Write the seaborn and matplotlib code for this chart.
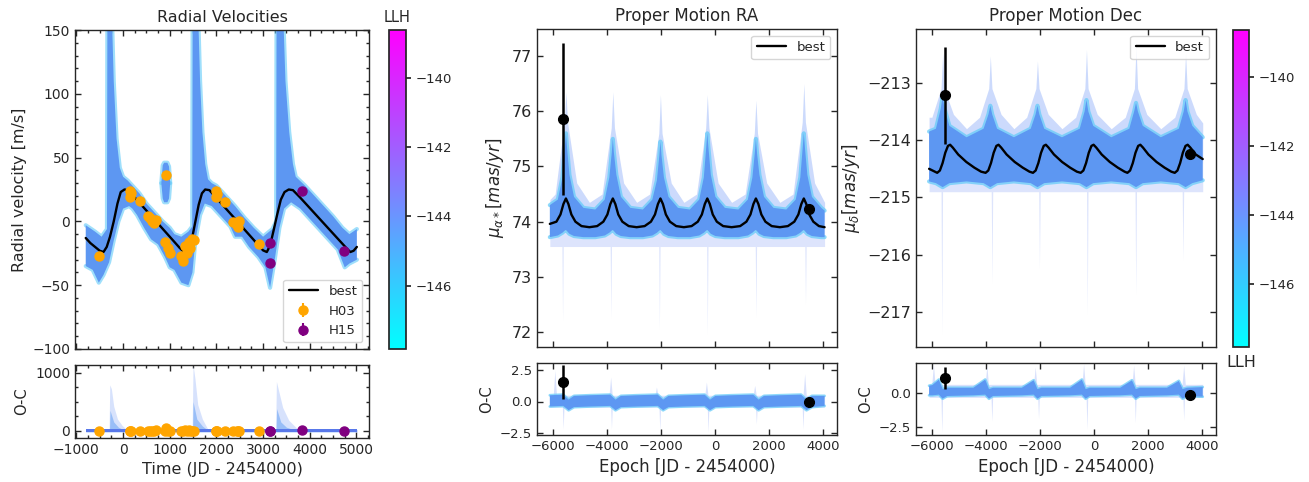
import numpy as np
import pandas as pd
import matplotlib
matplotlib.use("Agg")
import matplotlib.pyplot as plt
import seaborn as sns
from matplotlib.ticker import MultipleLocator
from matplotlib.colors import Normalize
from matplotlib.cm import ScalarMappable

sns.set_theme(style="white")
plt.rcParams['font.family'] = ['DejaVu Sans']
plt.rcParams['mathtext.fontset'] = 'dejavusans'

# ======================= DATA =======================
# ---- Radial velocities ----
rv_best_t = [-800, -700, -600, -500, -420, -350, -280, -200, -120, -50, 30, 110, 300, 500, 700, 900,
             1100, 1214, 1280, 1330, 1400, 1480, 1550, 1620, 1690, 1760, 1850, 2000, 2200, 2400, 2600,
             2800, 3000, 3080, 3150, 3220, 3300, 3380, 3460, 3550, 3640, 3800, 4000, 4200, 4400, 4600,
             4800, 4870, 4940, 5010]
rv_best_v = [-13, -17, -20, -23, -24, -20, -12, 0, 14, 23, 25, 24.5, 16.7, 8.5, 0.3, -7.9,
             -16.1, -20.8, -23, -24, -20, -13, 0, 13, 22, 25, 24.5, 18.4, 10.2, 2, -6.3,
             -14.5, -22.7, -24, -19, -8, 5, 17, 23, 25, 24.5, 18.5, 10.5, 2.5, -5.5, -13.5,
             -21.5, -24, -23, -20]

rv_hi_t = [-800, -600, -460, -345, -335, -250, -200, -140, -70, 0, 100, 200, 350, 500, 700, 850, 1000,
           1100, 1250, 1400, 1482, 1492, 1600, 1650, 1700, 1760, 1820, 1900, 2000, 2200, 2400, 2600,
           2800, 3000, 3200, 3280, 3290, 3420, 3480, 3560, 3640, 3700, 3900, 4100, 4300, 4500, 4700,
           4850, 5010]
rv_hi_v = [-3, -8, -12, -6, 175, 175, 110, 65, 42, 35, 32, 28, 22, 14, 6, 0, -5,
           -10, -12, -8, -4, 175, 175, 110, 70, 45, 33, 30, 28, 20, 12, 3,
           -5, -12, -6, 0, 175, 175, 110, 70, 45, 35, 28, 20, 12, 4, -5,
           -10, -6]
rv_lo_t = [-800, -650, -520, -420, -300, -200, -100, 0, 130, 200, 300, 450, 600, 750, 900, 1000, 1100,
           1250, 1400, 1486, 1550, 1650, 1750, 1900, 2100, 2300, 2400, 2550, 2700, 2900, 3050, 3150,
           3250, 3350, 3450, 3600, 3800, 4000, 4200, 4400, 4600, 4750, 4850, 5010]
rv_lo_v = [-35, -38, -48, -42, -32, -15, 0, 10, 12, 10, 5, -5, -14, -18, -28, -36, -38,
           -48, -50, -40, -15, 5, 14, 12, 4, -4, -12, -12, -20, -28, -36, -52,
           -30, -5, 10, 15, 10, 2, -6, -14, -22, -36, -33, -30]
rv_blob_t = [820, 850, 880, 950, 985, 1010]
rv_blob_hi = [30, 44, 46, 46, 43, 30]
rv_blob_lo = [30, 18, 15, 15, 18, 30]

h03_t = [-514, 143, 157, 164, 357, 536, 571, 629, 657, 714, 914, 893, 964, 1000, 1250, 1286, 1321,
         1371, 1407, 1443, 1486, 1521, 1986, 2000, 2014, 2186, 2357, 2443, 2464, 2486, 2914]
h03_v = [-26.8, 24, 19.5, 22, 15.6, 4.4, 2.6, 0, -1.3, 1.3, 36, -16.4, -21, -25, -27, -31, -19.5,
         -25, -16.4, -21, -13.8, -14.3, 24, 19.5, 21.6, 15, -0.8, -2.6, -4.7, 0, -17.7]
h03_oc = [-2, 0, -4, -2, 2, 0, -1, 0, -2, 4, 45, 3, 0, -3, -3, -7, 4,
          -2, 4, 0, -3, -5, 0, -4, -2, 2, 1, 0, -2, 2, 2]
h15_t = [3143, 3157, 3843, 4736]
h15_v = [-32.5, -17, 24, -23.4]
h15_oc = [-8, 0, 6, 0]
rv_err = 2.5

rv_oc_band_t = [-800, 5010]
rv_oc_band_hi = [22, 22]
rv_oc_band_lo = [-22, -22]
rv_oc_spk_t = [-800, -300, -285, -250, -200, -120, -20, 80, 1480, 1500, 1540, 1600, 1700, 1820,
               3270, 3286, 3330, 3420, 3550, 3750, 5010]
rv_oc_spk_v = [20, 20, 790, 720, 420, 200, 90, 20, 20, 1130, 900, 450, 200, 20,
               20, 846, 700, 400, 180, 20, 20]
rv_oc_den_t = [-800, -290, -280, -200, -100, 0, 1490, 1500, 1580, 1700, 1800, 3280, 3290, 3380, 3500, 3650, 5010]
rv_oc_den_v = [20, 20, 350, 150, 60, 20, 20, 500, 200, 80, 20, 20, 380, 150, 60, 20, 20]

# ---- Proper motion RA ----
ra_best_t = [-6124,
             -5880, -5730, -5620, -5528, -5436, -5326, -5176, -4950, -4660, -4370,
             -4141, -3991, -3881, -3789, -3697, -3587, -3437, -3200, -2907, -2610,
             -2377, -2227, -2117, -2025, -1933, -1823, -1673, -1440, -1156, -870,
             -639, -489, -379, -287, -195, -85, 65, 300, 614, 930,
             1162, 1312, 1422, 1514, 1606, 1716, 1866, 2100, 2402, 2700,
             2938, 3088, 3198, 3290, 3382, 3492, 3642, 3850, 4060]
ra_best_v = [73.96,
             74.0, 74.13, 74.32, 74.42, 74.32, 74.13, 74.0, 73.92, 73.9, 73.92,
             74.0, 74.13, 74.32, 74.42, 74.32, 74.13, 74.0, 73.92, 73.9, 73.92,
             74.0, 74.13, 74.32, 74.42, 74.32, 74.13, 74.0, 73.92, 73.9, 73.92,
             74.0, 74.13, 74.32, 74.42, 74.32, 74.13, 74.0, 73.92, 73.9, 73.92,
             74.0, 74.13, 74.32, 74.42, 74.32, 74.13, 74.0, 73.92, 73.9, 73.92,
             74.0, 74.13, 74.32, 74.42, 74.32, 74.13, 74.0, 73.92, 73.9]
ra_cl_t = [-6124, -5828, -5658, -5568, -5528, -5488, -5398, -5228, -4878,
           -4439, -4089, -3919, -3829, -3789, -3749, -3659, -3489, -3139,
           -2675, -2325, -2155, -2065, -2025, -1985, -1895, -1725, -1375,
           -937, -587, -417, -327, -287, -247, -157, 13, 363,
           864, 1214, 1384, 1474, 1514, 1554, 1644, 1814, 2164,
           2640, 2990, 3160, 3250, 3290, 3330, 3420, 3590, 3940, 4060]
ra_cl_hi = [74.3, 74.4, 74.8, 75.35, 75.6, 75.35, 74.85, 74.45, 74.25,
            74.22, 74.4, 74.8, 75.25, 75.5, 75.25, 74.85, 74.45, 74.25,
            74.22, 74.4, 74.75, 75.2, 75.45, 75.2, 74.8, 74.45, 74.25,
            74.22, 74.4, 74.8, 75.35, 75.6, 75.35, 74.85, 74.45, 74.25,
            74.22, 74.4, 74.8, 75.25, 75.5, 75.25, 74.85, 74.45, 74.25,
            74.22, 74.4, 74.8, 75.35, 75.6, 75.35, 74.85, 74.45, 74.25, 74.2]
ra_cl_lo = [73.72, 73.75, 73.8, 73.84, 73.85, 73.83, 73.78, 73.74, 73.72,
            73.72, 73.75, 73.8, 73.84, 73.85, 73.83, 73.78, 73.74, 73.72,
            73.72, 73.75, 73.8, 73.84, 73.85, 73.83, 73.78, 73.74, 73.72,
            73.72, 73.75, 73.8, 73.84, 73.85, 73.83, 73.78, 73.74, 73.72,
            73.72, 73.75, 73.8, 73.84, 73.85, 73.83, 73.78, 73.74, 73.72,
            73.72, 73.75, 73.8, 73.84, 73.85, 73.83, 73.78, 73.74, 73.72, 73.72]
ra_up_t = [-6124, -5928, -5588, -5528, -5468, -5128, -4658,
           -4189, -3849, -3789, -3729, -3389, -2907,
           -2425, -2085, -2025, -1965, -1625, -1156,
           -687, -347, -287, -227, 113, 614,
           1114, 1454, 1514, 1574, 1914, 2402,
           2890, 3230, 3290, 3350, 3690, 4060]
ra_up_v = [74.4, 74.5, 75.8, 76.35, 75.8, 74.7, 74.35,
           74.5, 75.7, 76.35, 75.7, 74.7, 74.35,
           74.5, 75.6, 76.3, 75.6, 74.7, 74.35,
           74.5, 75.7, 76.3, 75.7, 74.7, 74.35,
           74.5, 75.6, 76.2, 75.6, 74.7, 74.35,
           74.5, 75.8, 76.5, 75.8, 74.7, 74.35]
ra_dn_t = [-6124, -5677, -5652, -5627, -3889, -3864, -3839, -2088, -2063, -2038,
           -312, -287, -262, 1489, 1514, 1539, 3327, 3352, 3377, 4060]
ra_dn_v = [73.55, 73.55, 72.2, 73.55, 73.55, 72.25, 73.55, 73.55, 72.05, 73.55,
           73.55, 71.95, 73.55, 73.55, 72.27, 73.55, 73.55, 72.5, 73.55, 73.55]
ra_obs_t = [-5627, 3477]
ra_obs_v = [75.86, 74.23]
ra_obs_e = [1.37, 0.03]
ra_oc_obs = [1.58, 0.0]
ra_oc_obs_e = [1.35, 0.03]

ra_oc_t = [-6124, -5628, -5428, -5228, -4658, -3889, -3689, -3489, -2907, -2125, -1925, -1725, -1156,
           -387, -187, 13, 614, 1414, 1614, 1814, 2402, 3190, 3390, 3590, 4060]
ra_oc_hi = [0.5, 0.55, 0.15, 0.45, 0.5, 0.55, 0.15, 0.45, 0.5, 0.55, 0.15, 0.45, 0.5,
            0.55, 0.15, 0.45, 0.5, 0.55, 0.15, 0.45, 0.5, 0.55, 0.15, 0.45, 0.45]
ra_oc_lo = [-0.4, -0.35, -0.7, -0.45, -0.4, -0.35, -0.7, -0.45, -0.4, -0.35, -0.7, -0.45, -0.4,
            -0.35, -0.7, -0.45, -0.4, -0.35, -0.7, -0.45, -0.4, -0.35, -0.7, -0.45, -0.35]
ra_oc_up_t = [-6124, -5998, -5938, -5878, -3930, -3870, -3810, -2233, -2173, -2113,
              -381, -321, -261, 1409, 1469, 1529, 3261, 3321, 3381, 4060]
ra_oc_up_v = [0.5, 0.5, 2.5, 0.5, 0.5, 1.96, 0.5, 0.5, 1.16, 0.5,
              0.5, 1.56, 0.5, 0.5, 1.29, 0.5, 0.5, 2.23, 0.5, 0.5]
ra_oc_dn_t = [-6124, -5660, -5630, -5600, -3870, -3840, -3810, -2079, -2049, -2019,
              -289, -259, -229, 1501, 1531, 1561, 3229, 3259, 3289, 4060]
ra_oc_dn_v = [-0.45, -0.45, -2.2, -0.45, -0.45, -2.2, -0.45, -0.45, -2.34, -0.45,
              -0.45, -2.47, -0.45, -0.45, -1.8, -0.45, -0.45, -2.2, -0.45, -0.45]

# ---- Proper motion Dec ----
dec_best_t = [-6124, -5823, -5723, -5623, -5523, -5423, -5343, -5243, -5043, -4743, -4443, -4193,
              -4026, -3926, -3826, -3726, -3626, -3546, -3446, -3246, -2946, -2646, -2396,
              -2267, -2167, -2067, -1967, -1867, -1787, -1687, -1487, -1187, -887, -637,
              -495, -395, -295, -195, -95, -15, 85, 285, 585, 885, 1135,
              1240, 1340, 1440, 1540, 1640, 1720, 1820, 2020, 2320, 2620, 2870,
              2998, 3098, 3198, 3298, 3398, 3478, 3578, 3778, 4037]
dec_best_v = [-214.5, -214.57, -214.53, -214.40, -214.22, -214.10, -214.08, -214.13, -214.25, -214.38, -214.48, -214.55,
              -214.57, -214.53, -214.40, -214.22, -214.10, -214.08, -214.13, -214.25, -214.38, -214.48, -214.55,
              -214.57, -214.53, -214.40, -214.22, -214.10, -214.08, -214.13, -214.25, -214.38, -214.48, -214.55,
              -214.57, -214.53, -214.40, -214.22, -214.10, -214.08, -214.13, -214.25, -214.38, -214.48, -214.55,
              -214.57, -214.53, -214.40, -214.22, -214.10, -214.08, -214.13, -214.25, -214.38, -214.48, -214.55,
              -214.57, -214.53, -214.40, -214.22, -214.10, -214.08, -214.13, -214.25, -214.33]
dec_cl_t = [-6124, -5870, -5690, -5620, -5550, -5370, -4735,
            -4100, -3920, -3850, -3780, -3600, -2975,
            -2350, -2170, -2100, -2030, -1850, -1190,
            -530, -350, -280, -210, -30, 640,
            1310, 1490, 1560, 1630, 1810, 2480,
            3150, 3330, 3400, 3470, 3650, 4037]
dec_cl_hi = [-213.85, -213.8, -213.45, -213.23, -213.45, -213.75, -213.95,
             -213.8, -213.55, -213.4, -213.55, -213.8, -213.95,
             -213.8, -213.55, -213.4, -213.55, -213.8, -213.95,
             -213.8, -213.5, -213.3, -213.5, -213.75, -213.95,
             -213.8, -213.5, -213.35, -213.5, -213.75, -213.95,
             -213.8, -213.5, -213.3, -213.5, -213.75, -213.95]
dec_cl_lo = [-214.72, -214.75, -214.8, -214.82, -214.8, -214.75, -214.72,
             -214.75, -214.8, -214.82, -214.8, -214.75, -214.72,
             -214.75, -214.8, -214.82, -214.8, -214.75, -214.72,
             -214.75, -214.8, -214.82, -214.8, -214.75, -214.72,
             -214.75, -214.8, -214.82, -214.8, -214.75, -214.72,
             -214.75, -214.8, -214.82, -214.8, -214.75, -214.7]
dec_up_t = [-6124, -6020, -5680, -5620, -5560, -5220, -4735,
            -4250, -3910, -3850, -3790, -3450, -2975,
            -2500, -2160, -2100, -2040, -1700, -1190,
            -680, -340, -280, -220, 120, 640,
            1160, 1500, 1560, 1620, 1960, 2480,
            3000, 3340, 3400, 3460, 3800, 4037]
dec_up_v = [-213.6, -213.6, -213.1, -212.48, -213.1, -213.55, -213.8,
            -213.6, -213.1, -212.53, -213.1, -213.55, -213.8,
            -213.6, -213.1, -212.62, -213.1, -213.55, -213.8,
            -213.6, -213.1, -212.42, -213.1, -213.55, -213.8,
            -213.6, -213.1, -212.36, -213.1, -213.55, -213.8,
            -213.6, -213.1, -212.48, -213.1, -213.55, -213.7]
dec_dn_t = [-6124, -5680, -5652, -5624, -3817, -3789, -3761, -2054, -2026, -1998,
            -278, -250, -222, 1522, 1550, 1578, 3274, 3302, 3330, 4037]
dec_dn_v = [-214.9, -214.9, -217.4, -214.9, -214.9, -216.5, -214.9, -214.9, -216.25, -214.9,
            -214.9, -217.05, -214.9, -214.9, -216.7, -214.9, -214.9, -216.1, -214.9, -214.9]
dec_obs_t = [-5529, 3553]
dec_obs_v = [-213.22, -214.25]
dec_obs_e = [0.84, 0.03]
dec_oc_obs = [1.08, -0.2]
dec_oc_obs_e = [0.79, 0.03]

dec_oc_t = [-6124, -6000, -5760, -5620, -5450, -4480, -4040, -3900, -3750, -2680, -2240, -2100, -1950,
            -890, -450, -310, -160, 970, 1410, 1550, 1700, 2710, 3150, 3290, 3450, 4037]
dec_oc_hi = [0.5, 0.55, 0.95, 0.25, 0.35, 0.35, 0.95, 0.25, 0.35, 0.35, 0.9, 0.25, 0.35,
             0.35, 0.95, 0.25, 0.35, 0.35, 0.9, 0.25, 0.35, 0.35, 0.85, 0.25, 0.35, 0.4]
dec_oc_lo = [-0.2, -0.2, -0.15, -0.45, -0.25, -0.2, -0.15, -0.45, -0.25, -0.2, -0.15, -0.45, -0.25,
             -0.2, -0.15, -0.45, -0.25, -0.2, -0.15, -0.45, -0.25, -0.2, -0.15, -0.45, -0.25, -0.3]
dec_oc_up_t = [-6124, -6023, -5963, -5903, -4040, -3980, -3920, -2244, -2184, -2124,
               -447, -387, -327, 1411, 1471, 1531, 3270, 3330, 3390, 4037]
dec_oc_up_v = [0.6, 0.6, 2.1, 0.6, 0.6, 2.0, 0.6, 0.6, 1.87, 0.6,
               0.6, 2.1, 0.6, 0.6, 2.0, 0.6, 0.6, 2.0, 0.6, 0.6]
dec_oc_dn_t = [-6124, -5683, -5653, -5623, -3824, -3794, -3764, -2090, -2060, -2030,
               -293, -263, -233, 1503, 1533, 1563, 3300, 3330, 3360, 4037]
dec_oc_dn_v = [-0.35, -0.35, -2.9, -0.35, -0.35, -2.1, -0.35, -0.35, -1.9, -0.35,
               -0.35, -2.7, -0.35, -0.35, -2.2, -0.35, -0.35, -2.0, -0.35, -0.35]

llh_range = [-147.83, -138.63]
llh_ticks = [-146, -144, -142, -140]

# ======================= FIGURE =======================
W, H = 1309, 482
fig = plt.figure(figsize=(W / 100, H / 100), dpi=100)


def rect(x0, y0, x1, y1):
    return [x0 / W, 1 - y1 / H, (x1 - x0) / W, (y1 - y0) / H]


ax_rv = fig.add_axes(rect(75, 30, 369, 349))
ax_rvoc = fig.add_axes(rect(75, 365, 369, 438))
cax1 = fig.add_axes(rect(389, 30, 406, 349))
ax_ra = fig.add_axes(rect(537, 29, 837, 347))
ax_raoc = fig.add_axes(rect(537, 363, 837, 435))
ax_de = fig.add_axes(rect(916, 29, 1216, 347))
ax_deoc = fig.add_axes(rect(916, 363, 1216, 435))
cax2 = fig.add_axes(rect(1233, 30, 1249, 347))

DENSE = '#5d97f2'
EDGE = '#5fcaf9'
FAINT = '#b7cbfb'
FAINTER = '#d5defc'


def poly_band(ax, xt, hi, xb, lo, face, edge=None, elw=2.2, ealpha=0.75, z=1.0):
    xs = list(xt) + list(xb)[::-1]
    ys = list(hi) + list(lo)[::-1]
    if edge:
        ax.plot(xt, hi, color=edge, lw=elw, alpha=ealpha, zorder=z - 0.1)
        ax.plot(xb, lo, color=edge, lw=elw, alpha=ealpha, zorder=z - 0.1)
    ax.fill(xs, ys, color=face, lw=0, zorder=z)


def style_axes(ax, size):
    ax.tick_params(which='both', direction='in', top=True, right=True, bottom=True, left=True,
                   labelsize=size, color='0.15', width=1.0)
    ax.tick_params(which='major', length=4.5)
    ax.tick_params(which='minor', length=2.4)
    for s in ax.spines.values():
        s.set_color('0.15')
        s.set_linewidth(1.0)


# ---------------- RV panel ----------------
poly_band(ax_rv, rv_hi_t, rv_hi_v, rv_lo_t, rv_lo_v, DENSE, EDGE, elw=3, ealpha=0.6, z=1)
poly_band(ax_rv, rv_blob_t, rv_blob_hi, rv_blob_t, rv_blob_lo, DENSE, EDGE, elw=3, ealpha=0.6, z=1)
sns.lineplot(x=rv_best_t, y=rv_best_v, ax=ax_rv, color='black', linewidth=1.7, sort=False,
             estimator=None, label='best', zorder=4)
ax_rv.errorbar(h03_t, h03_v, yerr=rv_err, fmt='o', color='orange', ms=6.5, elinewidth=1.5,
               capsize=0, zorder=6, label='H03')
ax_rv.errorbar(h15_t, h15_v, yerr=rv_err, fmt='o', color='purple', ms=6.5, elinewidth=1.5,
               capsize=0, zorder=6, label='H15')
ax_rv.set_xlim(-1030, 5270)
ax_rv.set_ylim(-100, 150)
ax_rv.xaxis.set_major_locator(MultipleLocator(1000))
ax_rv.xaxis.set_minor_locator(MultipleLocator(250))
ax_rv.yaxis.set_major_locator(MultipleLocator(50))
ax_rv.yaxis.set_minor_locator(MultipleLocator(10))
style_axes(ax_rv, 10)
ax_rv.tick_params(labelbottom=False)
ax_rv.set_ylabel('Radial velocity [m/s]', fontsize=11.5)
ax_rv.set_title('Radial Velocities', fontsize=11.5, pad=6)
h, l = ax_rv.get_legend_handles_labels()
order = [l.index('best'), l.index('H03'), l.index('H15')]
ax_rv.legend([h[i] for i in order], [l[i] for i in order], loc='lower right', fontsize=9.5,
             frameon=True, edgecolor='0.8', borderpad=0.4, handlelength=2.2)

# RV O-C
ax_rvoc.fill_between(rv_oc_spk_t, -20, rv_oc_spk_v, color=FAINT, alpha=0.55, lw=0, zorder=1)
ax_rvoc.fill_between(rv_oc_den_t, -20, rv_oc_den_v, color='#7fb0f6', alpha=0.7, lw=0, zorder=1.2)
ax_rvoc.fill_between(rv_oc_band_t, rv_oc_band_lo, rv_oc_band_hi, color='#5878ea', lw=0, zorder=1.5)
ax_rvoc.errorbar(h03_t, h03_oc, yerr=rv_err, fmt='o', color='orange', ms=6.5, elinewidth=1.5,
                 capsize=0, zorder=6)
ax_rvoc.errorbar(h15_t, h15_oc, yerr=rv_err, fmt='o', color='purple', ms=6.5, elinewidth=1.5,
                 capsize=0, zorder=6)
ax_rvoc.set_xlim(-1030, 5270)
ax_rvoc.set_ylim(-126, 1131)
ax_rvoc.xaxis.set_major_locator(MultipleLocator(1000))
ax_rvoc.xaxis.set_minor_locator(MultipleLocator(250))
ax_rvoc.yaxis.set_major_locator(MultipleLocator(1000))
ax_rvoc.yaxis.set_minor_locator(MultipleLocator(250))
style_axes(ax_rvoc, 10)
ax_rvoc.set_ylabel('O-C', fontsize=10.5)
ax_rvoc.set_xlabel('Time (JD - 2454000)', fontsize=11.5)

# ---------------- RA panel ----------------
ax_ra.fill_between(ra_dn_t, ra_dn_v, 74.0, color=FAINTER, alpha=0.8, lw=0, zorder=0.8)
ax_ra.fill_between(ra_up_t, 74.0, ra_up_v, color=FAINT, alpha=0.7, lw=0, zorder=0.9)
poly_band(ax_ra, ra_cl_t, ra_cl_hi, ra_cl_t, ra_cl_lo, DENSE, EDGE, elw=3, ealpha=0.7, z=1)
sns.lineplot(x=ra_best_t, y=ra_best_v, ax=ax_ra, color='black', linewidth=1.7, sort=False,
             estimator=None, label='best', zorder=4)
ax_ra.errorbar(ra_obs_t, ra_obs_v, yerr=ra_obs_e, fmt='o', color='black', ms=7, elinewidth=1.8,
               capsize=0, zorder=6)
ax_ra.set_xlim(-6600, 4520)
ax_ra.set_ylim(71.73, 77.49)
ax_ra.xaxis.set_major_locator(MultipleLocator(2000))
ax_ra.yaxis.set_major_locator(MultipleLocator(1))
style_axes(ax_ra, 11.5)
ax_ra.tick_params(labelbottom=False)
ax_ra.set_ylabel(r'$\mu_{\alpha*}[mas/yr]$', fontsize=12)
ax_ra.set_title('Proper Motion RA', fontsize=12, pad=6)
ax_ra.legend(loc='upper right', fontsize=9.5, frameon=True, edgecolor='0.8', handlelength=2.2)

ax_raoc.fill_between(ra_oc_dn_t, ra_oc_dn_v, 0, color=FAINTER, alpha=0.9, lw=0, zorder=0.8)
ax_raoc.fill_between(ra_oc_up_t, 0, ra_oc_up_v, color=FAINTER, alpha=0.9, lw=0, zorder=0.8)
poly_band(ax_raoc, ra_oc_t, ra_oc_hi, ra_oc_t, ra_oc_lo, DENSE, EDGE, elw=2, ealpha=0.7, z=1)
ax_raoc.errorbar(ra_obs_t, ra_oc_obs, yerr=ra_oc_obs_e, fmt='o', color='black', ms=7,
                 elinewidth=1.8, capsize=0, zorder=6)
ax_raoc.set_xlim(-6600, 4520)
ax_raoc.set_ylim(-2.68, 3.08)
ax_raoc.xaxis.set_major_locator(MultipleLocator(2000))
ax_raoc.set_yticks([-2.5, 0.0, 2.5])
style_axes(ax_raoc, 9.5)
ax_raoc.set_ylabel('O-C', fontsize=10.5)
ax_raoc.set_xlabel('Epoch [JD - 2454000)', fontsize=12)

# ---------------- Dec panel ----------------
ax_de.fill_between(dec_dn_t, dec_dn_v, -214.4, color=FAINTER, alpha=0.8, lw=0, zorder=0.8)
ax_de.fill_between(dec_up_t, -214.4, dec_up_v, color=FAINT, alpha=0.7, lw=0, zorder=0.9)
poly_band(ax_de, dec_cl_t, dec_cl_hi, dec_cl_t, dec_cl_lo, DENSE, EDGE, elw=3, ealpha=0.7, z=1)
sns.lineplot(x=dec_best_t, y=dec_best_v, ax=ax_de, color='black', linewidth=1.7, sort=False,
             estimator=None, label='best', zorder=4)
ax_de.errorbar(dec_obs_t, dec_obs_v, yerr=dec_obs_e, fmt='o', color='black', ms=7, elinewidth=1.8,
               capsize=0, zorder=6)
ax_de.set_xlim(-6610, 4530)
ax_de.set_ylim(-217.61, -212.06)
ax_de.xaxis.set_major_locator(MultipleLocator(2000))
ax_de.yaxis.set_major_locator(MultipleLocator(1))
style_axes(ax_de, 11.5)
ax_de.tick_params(labelbottom=False)
ax_de.set_ylabel(r'$\mu_{\delta}[mas/yr]$', fontsize=12)
ax_de.set_title('Proper Motion Dec', fontsize=12, pad=6)
ax_de.legend(loc='upper right', fontsize=9.5, frameon=True, edgecolor='0.8', handlelength=2.2)

ax_deoc.fill_between(dec_oc_dn_t, dec_oc_dn_v, 0, color=FAINTER, alpha=0.9, lw=0, zorder=0.8)
ax_deoc.fill_between(dec_oc_up_t, 0, dec_oc_up_v, color=FAINTER, alpha=0.9, lw=0, zorder=0.8)
poly_band(ax_deoc, dec_oc_t, dec_oc_hi, dec_oc_t, dec_oc_lo, DENSE, EDGE, elw=2, ealpha=0.7, z=1)
ax_deoc.errorbar(dec_obs_t, dec_oc_obs, yerr=dec_oc_obs_e, fmt='o', color='black', ms=7,
                 elinewidth=1.8, capsize=0, zorder=6)
ax_deoc.set_xlim(-6610, 4530)
ax_deoc.set_ylim(-3.1, 2.16)
ax_deoc.xaxis.set_major_locator(MultipleLocator(2000))
ax_deoc.set_yticks([-2.5, 0.0])
style_axes(ax_deoc, 9.5)
ax_deoc.set_ylabel('O-C', fontsize=10.5)
ax_deoc.set_xlabel('Epoch [JD - 2454000)', fontsize=12)

# ---------------- colorbars ----------------
norm = Normalize(vmin=llh_range[0], vmax=llh_range[1])
for cax in (cax1, cax2):
    cb = fig.colorbar(ScalarMappable(norm=norm, cmap='cool'), cax=cax, ticks=llh_ticks)
    cb.ax.tick_params(labelsize=9.5, length=3.5, direction='out', right=True, color='0.15')
    cb.outline.set_edgecolor('0.15')
cax1.set_title('LLH', fontsize=10.5, pad=6)
cax2.text(0.5, -0.025, 'LLH', transform=cax2.transAxes, ha='center', va='top', fontsize=11.5)

fig.savefig('out.png', dpi=100)
